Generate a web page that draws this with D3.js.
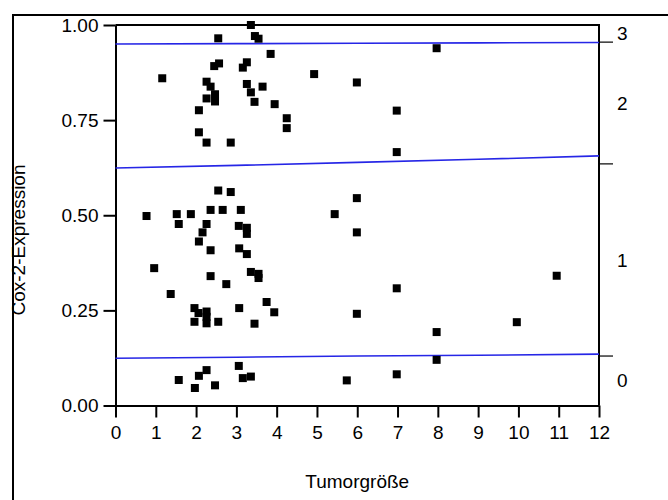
<!DOCTYPE html>
<html>
<head>
<meta charset="utf-8">
<title>Cox-2-Expression vs Tumorgröße</title>
<script src="https://cdn.jsdelivr.net/npm/d3@7"></script>
<style>
    body { margin: 0; background: #fff; }
    svg text { font-family: "Liberation Sans", Arial, sans-serif; fill: #000; }
</style>
</head>
<body>
<svg id="chart" width="668" height="500"></svg>
<script>
// points
const tumorSize = [
    3.36, 3.46, 3.55, 2.55, 3.85, 7.97, 2.45, 2.57, 3.16, 3.26,
    1.16, 4.93, 2.26, 2.36, 3.26, 3.65, 5.99, 2.47, 3.36, 2.26,
    2.47, 3.45, 3.95, 2.07, 6.98, 4.25, 4.25, 2.07, 2.26, 2.86,
    6.98,
    2.55, 2.86, 5.99, 0.77, 1.52, 1.87, 2.36, 2.66, 3.11, 5.44,
    1.57, 2.26, 3.06, 3.26, 3.26, 2.16, 5.99, 2.07, 2.36, 3.07,
    3.26, 0.96, 2.36, 3.36, 3.55, 3.55, 10.95, 2.75, 6.98, 1.37,
    3.75, 1.96, 3.07, 2.06, 2.26, 2.26, 3.94, 5.99, 1.96, 2.26,
    2.55, 3.45, 9.96, 7.97,
    1.57, 1.97, 2.07, 2.26, 2.47, 3.06, 3.16, 3.36, 5.74, 6.98, 7.97
];
const coxExpr = [
    1.000, 0.971, 0.964, 0.965, 0.924, 0.939, 0.892, 0.899, 0.888, 0.902,
    0.860, 0.871, 0.851, 0.838, 0.845, 0.838, 0.849, 0.818, 0.823, 0.807,
    0.799, 0.798, 0.792, 0.776, 0.775, 0.755, 0.729, 0.718, 0.691, 0.691,
    0.666,
    0.565, 0.561, 0.545, 0.498, 0.503, 0.503, 0.514, 0.514, 0.514, 0.503,
    0.477, 0.477, 0.472, 0.467, 0.451, 0.455, 0.455, 0.431, 0.408, 0.413,
    0.398, 0.361, 0.340, 0.351, 0.346, 0.335, 0.341, 0.319, 0.308, 0.293,
    0.272, 0.256, 0.256, 0.243, 0.247, 0.233, 0.245, 0.241, 0.220, 0.216,
    0.220, 0.215, 0.219, 0.193,
    0.067, 0.046, 0.078, 0.093, 0.053, 0.104, 0.072, 0.076, 0.066, 0.082, 0.120
];

// fitted cumulative probability curves
const curveX = [0, 3, 6, 9, 12];
const curveLow = [0.124, 0.127, 0.130, 0.132, 0.135];
const curveMid = [0.624, 0.631, 0.639, 0.647, 0.656];
const curveHigh = [0.950, 0.951, 0.952, 0.953, 0.954];

// right axis
const rightTicks = [0.130, 0.635, 0.955];
const rightLabels = ["0", "1", "2", "3"];

const xTicks = [0, 1, 2, 3, 4, 5, 6, 7, 8, 9, 10, 11, 12];
const yTicks = [0, 0.25, 0.5, 0.75, 1];

const svg = d3.select("#chart");
const plotLeft = 115.5, plotRight = 599, plotTop = 25, plotBottom = 405.5;

const x = d3.scaleLinear().domain([0, 12]).range([plotLeft, plotRight]);
const y = d3.scaleLinear().domain([0, 1]).range([plotBottom, plotTop]);

// outer frame (top + left only)
svg.append("path")
    .attr("d", "M13,500V15H668")
    .attr("fill", "none")
    .attr("stroke", "#000")
    .attr("stroke-width", 2);

// plot frame: top and right
svg.append("path")
    .attr("d", `M${plotLeft},${plotTop}H${plotRight}V${plotBottom}`)
    .attr("fill", "none")
    .attr("stroke", "#000")
    .attr("stroke-width", 2);

// bottom axis
const xAxis = svg.append("g")
    .attr("transform", `translate(0,${plotBottom})`)
    .call(d3.axisBottom(x).tickValues(xTicks).tickSize(12).tickPadding(8).tickSizeOuter(0));
xAxis.select(".domain").attr("stroke-width", 2);
xAxis.selectAll(".tick line").attr("stroke-width", 2);
xAxis.selectAll(".tick text").style("font-size", "19px");

// left axis
const yAxis = svg.append("g")
    .attr("transform", `translate(${plotLeft},0)`)
    .call(d3.axisLeft(y).tickValues(yTicks).tickFormat(d3.format(".2f"))
        .tickSize(12).tickPadding(5).tickSizeOuter(0));
yAxis.select(".domain").attr("stroke-width", 2);
yAxis.selectAll(".tick line").attr("stroke-width", 2);
yAxis.selectAll(".tick text").style("font-size", "19px");

// right axis ticks + category labels
svg.append("g").selectAll("line")
    .data(rightTicks)
    .join("line")
    .attr("x1", plotRight).attr("x2", plotRight + 14)
    .attr("y1", d => y(d)).attr("y2", d => y(d))
    .attr("stroke", "#000")
    .attr("stroke-width", 1.2);

const bounds = [0].concat(rightTicks, [1]);
svg.append("g").selectAll("text")
    .data(rightLabels)
    .join("text")
    .attr("x", plotRight + 18)
    .attr("y", (d, i) => y((bounds[i] + bounds[i + 1]) / 2))
    .attr("dy", "0.35em")
    .style("font-size", "19px")
    .text(d => d);

// blue curves
const line = d3.line()
    .x((d, i) => x(curveX[i]))
    .y(d => y(d));

[curveLow, curveMid, curveHigh].forEach(function (c) {
    svg.append("path")
        .datum(c)
        .attr("d", line)
        .attr("fill", "none")
        .attr("stroke", "#2626e6")
        .attr("stroke-width", 1.6);
});

// points
const sq = 8;
svg.append("g").selectAll("rect")
    .data(tumorSize)
    .join("rect")
    .attr("x", d => x(d) - sq / 2)
    .attr("y", (d, i) => y(coxExpr[i]) - sq / 2)
    .attr("width", sq)
    .attr("height", sq)
    .attr("fill", "#000");

// axis titles
svg.append("text")
    .attr("x", (plotLeft + plotRight) / 2)
    .attr("y", 488)
    .attr("text-anchor", "middle")
    .style("font-size", "19px")
    .text("Tumorgröße");

svg.append("text")
    .attr("transform", "translate(25,240) rotate(-90)")
    .attr("text-anchor", "middle")
    .style("font-size", "19px")
    .text("Cox-2-Expression");
</script>
</body>
</html>
